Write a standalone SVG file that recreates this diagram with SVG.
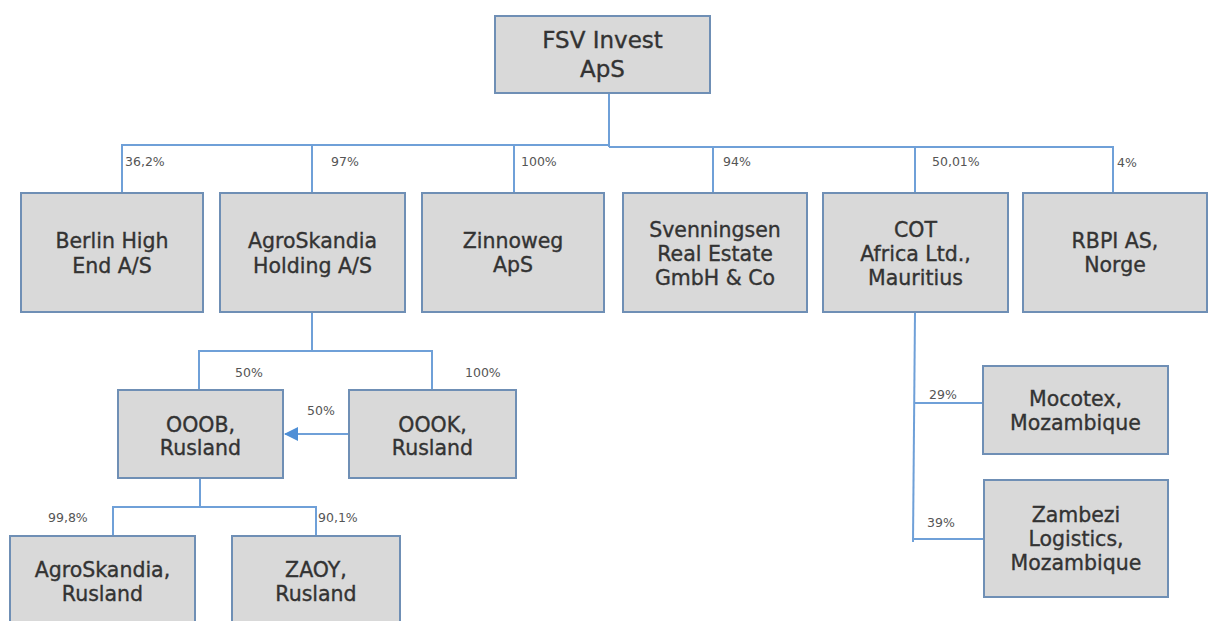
<svg xmlns="http://www.w3.org/2000/svg" width="1213" height="621" viewBox="0 0 1213 621">
<style>
.box{fill:#d9d9d9;stroke:#6f8fb5;stroke-width:2}
.t{font-family:"DejaVu Sans",Verdana,sans-serif;font-size:20.5px;fill:#333333;stroke:#333333;stroke-width:0.35;text-anchor:middle}
.big{font-size:23px}
.lbl{font-family:"DejaVu Sans",Verdana,sans-serif;font-size:12.5px;fill:#555555}
.c{fill:none;stroke:#6fa0d8;stroke-width:2}
</style>
<defs>
<marker id="ah" viewBox="0 0 14 14" refX="13" refY="7" markerWidth="14" markerHeight="14" markerUnits="userSpaceOnUse" orient="auto">
<path d="M0,0 L14,7 L0,14 Z" fill="#4f8fd6"/>
</marker>
</defs>
<rect width="1213" height="621" fill="#ffffff"/>
<g id="connectors">
<path class="c" d="M609,93 V147"/>
<path class="c" d="M122,193 V145 H610"/>
<path class="c" d="M609,147 H1113 V193"/>
<path class="c" d="M312,146 V193"/>
<path class="c" d="M514,146 V193"/>
<path class="c" d="M713,147 V193"/>
<path class="c" d="M915,147 V193"/>
<path class="c" d="M312,312 V351"/>
<path class="c" d="M199,390 V351 H432 V390"/>
<path class="c" d="M349,434 H285" marker-end="url(#ah)"/>
<path class="c" d="M200,478 V507"/>
<path class="c" d="M113,536 V507 H316 V536"/>
<path class="c" d="M915,312 L913,542"/>
<path class="c" d="M914,403 H983"/>
<path class="c" d="M913,539 H986"/>
</g>
<g id="labels">
<text class="lbl" x="125" y="166">36,2%</text>
<text class="lbl" x="331" y="166">97%</text>
<text class="lbl" x="521" y="166">100%</text>
<text class="lbl" x="723" y="166">94%</text>
<text class="lbl" x="932" y="166">50,01%</text>
<text class="lbl" x="1117" y="167">4%</text>
<text class="lbl" x="235" y="377">50%</text>
<text class="lbl" x="465" y="377">100%</text>
<text class="lbl" x="307" y="415">50%</text>
<text class="lbl" x="48" y="522">99,8%</text>
<text class="lbl" x="318" y="522">90,1%</text>
<text class="lbl" x="929" y="399">29%</text>
<text class="lbl" x="927" y="527">39%</text>
</g>
<g id="fsv">
<rect class="box" x="495" y="16" width="215" height="77"/>
<text class="t big" x="602.5" y="48">FSV Invest</text>
<text class="t big" x="602.5" y="77">ApS</text>
</g>
<g id="berlin">
<rect class="box" x="21" y="193" width="182" height="119"/>
<text class="t" x="112" y="248">Berlin High</text>
<text class="t" x="112" y="273">End A/S</text>
</g>
<g id="agroholding">
<rect class="box" x="220" y="193" width="185" height="119"/>
<text class="t" x="312.5" y="248">AgroSkandia</text>
<text class="t" x="312.5" y="273">Holding A/S</text>
</g>
<g id="zinnoweg">
<rect class="box" x="422" y="193" width="182" height="119"/>
<text class="t" x="513" y="248">Zinnoweg</text>
<text class="t" x="513" y="272">ApS</text>
</g>
<g id="svenningsen">
<rect class="box" x="623" y="193" width="184" height="119"/>
<text class="t" x="715" y="237">Svenningsen</text>
<text class="t" x="715" y="261">Real Estate</text>
<text class="t" x="715" y="285">GmbH &amp; Co</text>
</g>
<g id="cot">
<rect class="box" x="823" y="193" width="185" height="119"/>
<text class="t" x="915.5" y="237">COT</text>
<text class="t" x="915.5" y="261">Africa Ltd.,</text>
<text class="t" x="915.5" y="285">Mauritius</text>
</g>
<g id="rbpi">
<rect class="box" x="1023" y="193" width="184" height="119"/>
<text class="t" x="1115" y="248">RBPI AS,</text>
<text class="t" x="1115" y="272">Norge</text>
</g>
<g id="ooob">
<rect class="box" x="118" y="390" width="165" height="88"/>
<text class="t" x="200.5" y="432">OOOB,</text>
<text class="t" x="200.5" y="455">Rusland</text>
</g>
<g id="oook">
<rect class="box" x="349" y="390" width="167" height="88"/>
<text class="t" x="432.5" y="432">OOOK,</text>
<text class="t" x="432.5" y="455">Rusland</text>
</g>
<g id="agrorusland">
<rect class="box" x="10" y="536" width="185" height="100"/>
<text class="t" x="102.5" y="577">AgroSkandia,</text>
<text class="t" x="102.5" y="601">Rusland</text>
</g>
<g id="zaoy">
<rect class="box" x="232" y="536" width="168" height="100"/>
<text class="t" x="316" y="577">ZAOY,</text>
<text class="t" x="316" y="601">Rusland</text>
</g>
<g id="mocotex">
<rect class="box" x="983" y="366" width="185" height="88"/>
<text class="t" x="1075.5" y="406">Mocotex,</text>
<text class="t" x="1075.5" y="430">Mozambique</text>
</g>
<g id="zambezi">
<rect class="box" x="984" y="480" width="184" height="117"/>
<text class="t" x="1076" y="522">Zambezi</text>
<text class="t" x="1076" y="546">Logistics,</text>
<text class="t" x="1076" y="570">Mozambique</text>
</g>
</svg>
